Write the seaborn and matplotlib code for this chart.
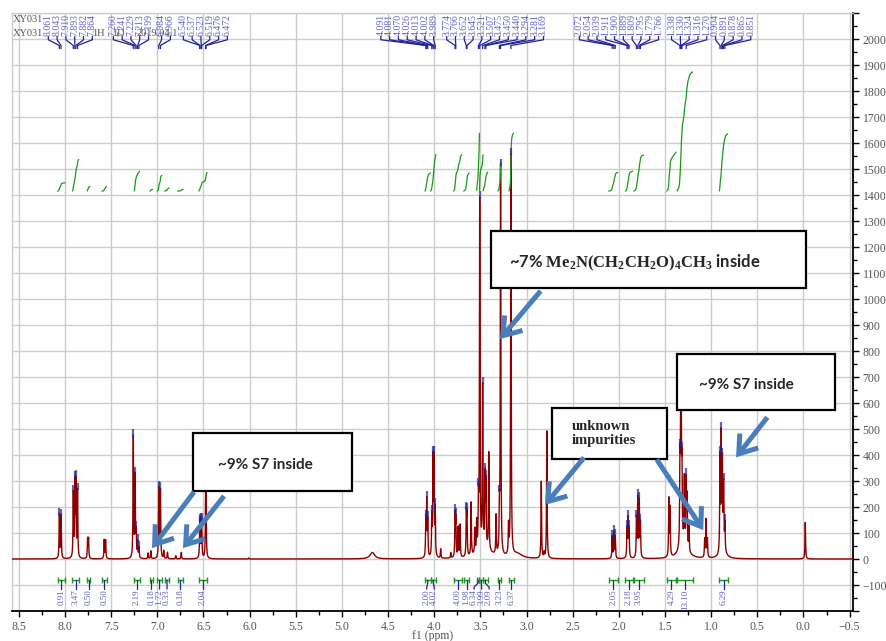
import numpy as np
import matplotlib
matplotlib.use("Agg")
import matplotlib.pyplot as plt
import seaborn as sns
from matplotlib.patches import FancyArrowPatch, Rectangle
from matplotlib.ticker import MultipleLocator, FixedLocator, FuncFormatter

# ---------------- data ----------------
# picked peaks, grouped as printed across the top (ppm text)
shift_groups = [
    ["8.061", "8.043", "7.910", "7.893", "7.882", "7.864"],
    ["7.260", "7.241", "7.229", "7.213", "7.199"],
    ["6.984", "6.966"],
    ["6.540", "6.537", "6.523", "6.519", "6.476", "6.472"],
    ["4.091", "4.081", "4.070", "4.026", "4.013", "4.002", "3.989"],
    ["3.774", "3.766", "3.652", "3.645", "3.521", "3.507", "3.475", "3.450",
     "3.440", "3.294", "3.281", "3.169"],
    ["2.072", "2.054", "2.039", "1.911", "1.900", "1.889", "1.809", "1.795",
     "1.779", "1.766"],
    ["1.338", "1.330", "1.324", "1.316", "1.270", "0.904", "0.891", "0.878",
     "0.865", "0.851"],
]
# intensities of the picked peaks (same order)
shift_heights = [
    [170, 165, 245, 280, 280, 255],
    [465, 310, 90, 60, 40],
    [268, 262],
    [85, 90, 105, 100, 195, 190],
    [140, 210, 135, 150, 365, 360, 175],
    [160, 140, 160, 150, 180, 1350, 620, 265, 240, 150, 1500, 1550],
    [85, 100, 85, 110, 145, 110, 150, 225, 215, 130],
    [300, 445, 410, 270, 250, 360, 430, 320, 235, 100],
]

# other sharp lines (not picked)
extra_ppm = [7.755, 7.745, 7.575, 7.560, 7.100, 7.070, 6.930, 6.890, 6.800,
             6.740, 6.010, 3.930, 3.820, 3.740, 3.720, 3.600, 3.560, 3.540,
             3.409, 3.330, 3.195, 2.840, 2.810, 2.780, 1.458, 1.445, 1.290,
             1.260, 1.240, 1.070, 1.055, 1.040, -0.020]
extra_height = [75, 75, 72, 70, 22, 30, 30, 25, 12,
                25, 4, 35, 20, 115, 125, 205, 95, 115,
                375, 150, 110, 295, 20, 490, 220, 185, 250,
                190, 95, 70, 145, 70, 140]

# broad signals: centre, height, half width (ppm)
broad_ppm = [4.67, 3.45, 3.10, 1.30, 0.87]
broad_height = [25, 35, 18, 55, 35]
broad_hw = [0.03, 0.08, 0.06, 0.05, 0.03]
line_hw = 0.0035

# integral regions (ppm) and normalised values
integral_start = [8.08, 7.92, 7.76, 7.60, 7.25, 7.08, 7.00, 6.92, 6.78, 6.55,
                  4.10, 4.04, 3.79, 3.68, 3.54, 3.51, 3.47, 3.31, 3.19,
                  2.11, 1.93, 1.84, 1.48, 1.37, 0.91]
integral_end = [8.00, 7.85, 7.73, 7.55, 7.19, 7.05, 6.95, 6.87, 6.72, 6.46,
                4.04, 3.98, 3.70, 3.62, 3.51, 3.47, 3.42, 3.28, 3.14,
                2.01, 1.85, 1.73, 1.38, 1.20, 0.82]
integral_value = [0.91, 3.47, 0.50, 0.50, 2.19, 0.18, 1.72, 0.33, 0.18, 2.04,
                  2.00, 4.02, 4.00, 1.98, 6.34, 3.99, 2.09, 3.23, 6.37,
                  2.05, 2.18, 3.95, 4.29, 13.10, 6.29]

x_ticks = [8.5, 8.0, 7.5, 7.0, 6.5, 6.0, 5.5, 5.0, 4.5, 4.0, 3.5, 3.0, 2.5,
           2.0, 1.5, 1.0, 0.5, 0.0, -0.5]
y_ticks = list(range(-100, 2001, 100))

# ---------------- styling ----------------
sns.set_theme(style="white")
plt.rcParams["font.family"] = ["Liberation Serif", "DejaVu Serif"]
plt.rcParams["mathtext.fontset"] = "custom"
plt.rcParams["mathtext.bf"] = "Liberation Serif:bold"
plt.rcParams["mathtext.rm"] = "Liberation Serif"
plt.rcParams["mathtext.it"] = "Liberation Serif:italic"

RED = "#8b0000"
GREEN = "#1a9a1a"
NAVY = "#22229a"
LABEL = "#6060c0"
GREY_TXT = "#555555"
GRID = "#cccccc"
ARROW = "#4a7ebb"

W, H = 887, 641
fig = plt.figure(figsize=(W / 100, H / 100), dpi=100)
ax = fig.add_axes([12 / W, 30 / H, 841 / W, 598 / H])
ax.set_xlim(8.574, -0.537)
ax.set_ylim(-200, 2100)

# ---------------- spectrum ----------------
ppm = np.arange(8.574, -0.537, -0.0004)


def lorentz(x, c, h, w):
    return h * w ** 2 / ((x - c) ** 2 + w ** 2)


pick_ppm = [float(s) for g in shift_groups for s in g]
pick_h = [h for g in shift_heights for h in g]
spec = np.zeros_like(ppm)
for c, h in zip(pick_ppm + extra_ppm, pick_h + extra_height):
    spec += lorentz(ppm, c, h, line_hw)
for c, h, w in zip(broad_ppm, broad_height, broad_hw):
    spec += lorentz(ppm, c, h, w)

sns.lineplot(x=ppm, y=spec, ax=ax, color=RED, lw=1.0, estimator=None,
             sort=False, zorder=3)

# peak-pick markers on top of each picked line
for c in pick_ppm:
    v = spec[np.argmin(np.abs(ppm - c))]
    ax.vlines(c, v - 6, v + 22, color=NAVY, lw=1.6, alpha=0.7, zorder=4)

# integral traces
integ_base, integ_scale = 1415, 35.0
for a, b, val in zip(integral_start, integral_end, integral_value):
    m = (ppm <= a) & (ppm >= b)
    cum = np.cumsum(spec[m])
    cum = cum / cum[-1] * val * integ_scale
    sns.lineplot(x=ppm[m], y=integ_base + cum, ax=ax, color=GREEN, lw=0.9,
                 estimator=None, sort=False, zorder=3)


# ---------------- label layout ----------------
def spread(blocks, step, gap):
    clusters = [[i] for i in range(len(blocks))]

    def geom(cl):
        allp = [p for i in cl for p in blocks[i]]
        width = sum((len(blocks[i]) - 1) * step for i in cl) + (len(cl) - 1) * gap
        return float(np.mean(allp)), width

    merged = True
    while merged:
        merged = False
        for k in range(len(clusters) - 1):
            c1, w1 = geom(clusters[k])
            c2, w2 = geom(clusters[k + 1])
            if (c1 - w1 / 2) - (c2 + w2 / 2) < gap:
                clusters[k] = clusters[k] + clusters.pop(k + 1)
                merged = True
                break
    out = []
    for cl in clusters:
        c, w = geom(cl)
        pos = c + w / 2
        for j, i in enumerate(cl):
            if j > 0:
                pos -= gap
            for n in range(len(blocks[i])):
                if n > 0:
                    pos -= step
                out.append(pos)
    return out


px = 1 / 92.3  # ppm per pixel
label_x = spread([[float(s) for s in g] for g in shift_groups], 8.8 * px, 13 * px)
texts = [s for g in shift_groups for s in g]
for lx, pk, t in zip(label_x, pick_ppm, texts):
    ax.plot([lx, lx, pk, pk], [2010, 1997, 1975, 1963], color=NAVY, lw=0.9,
            zorder=4, clip_on=False)
    ax.text(lx, 2013, t, rotation=90, ha="center", va="bottom", fontsize=7,
            color=LABEL, zorder=4)

# integral brackets and values
centres = [(a + b) / 2 for a, b in zip(integral_start, integral_end)]
int_x = spread([[c] for c in centres], 0, 7.5 * px)
for a, b, c, lx, val in zip(integral_start, integral_end, centres, int_x,
                            integral_value):
    ax.plot([a, b], [-81, -81], color=GREEN, lw=1.0, zorder=4)
    ax.vlines([a, b], -70, -92, color=GREEN, lw=1.0, zorder=4)
    ax.plot([c, c, lx, lx], [-81, -93, -108, -116], color=NAVY, lw=0.9, zorder=4)
    ax.text(lx, -118, f"{val:.2f}", rotation=90, ha="center", va="top",
            fontsize=6.5, color=LABEL, zorder=4)

# ---------------- axes ----------------
ax.xaxis.set_major_locator(FixedLocator(x_ticks))
ax.xaxis.set_minor_locator(MultipleLocator(0.25))
ax.xaxis.set_major_formatter(FuncFormatter(lambda v, _: f"{v:.1f}".replace("-", "\u2212")))
ax.yaxis.tick_right()
ax.yaxis.set_major_locator(FixedLocator(list(range(-200, 2101, 100))))
ax.yaxis.set_minor_locator(MultipleLocator(50))
ax.yaxis.set_major_formatter(FuncFormatter(
    lambda v, _: (f"{int(v)}".replace("-", "\u2212") if int(v) in y_ticks else "")))
ax.tick_params(axis="x", which="major", direction="out", length=4, width=1,
               color="black", labelsize=8.5, labelcolor=GREY_TXT, pad=3,
               bottom=True)
ax.tick_params(axis="x", which="minor", direction="out", length=3, width=1,
               color="black", bottom=True)
ax.tick_params(axis="y", which="major", direction="out", length=4, width=1,
               color="black", labelsize=8.5, labelcolor=GREY_TXT, pad=3,
               right=True, left=False)
ax.tick_params(axis="y", which="minor", direction="out", length=3, width=1,
               color="black", right=True, left=False)
ax.grid(True, which="major", color=GRID, lw=1.0, zorder=0)
ax.set_axisbelow(True)
for side in ("left", "top"):
    ax.spines[side].set_color(GRID)
    ax.spines[side].set_linewidth(1.0)
for side in ("right", "bottom"):
    ax.spines[side].set_color("black")
    ax.spines[side].set_linewidth(1.3)
ax.set_xlabel("f1 (ppm)", fontsize=8.5, color=GREY_TXT, labelpad=-2)
ax.set_ylabel("")

# header
hdr = dict(fontsize=7.5, color=GREY_TXT, va="center", ha="left", zorder=2,
           transform=fig.transFigure)
ax.text(13 / W, 1 - 20 / H, "XY031", **hdr)
ax.text(13 / W, 1 - 33 / H, "XY031", **hdr)
ax.text(92 / W, 1 - 33 / H, "1H", **hdr)
ax.text(112 / W, 1 - 33 / H, "1D", **hdr)
ax.text(137 / W, 1 - 33 / H, "2019.04.1", **hdr)


# ---------------- callouts ----------------
def box(x0, x1, y0, y1):
    ax.add_patch(Rectangle((min(x0, x1), y0), abs(x1 - x0), y1 - y0,
                           facecolor="white", edgecolor="black", lw=1.6,
                           zorder=6))


def arrow(p0, p1):
    ax.add_patch(FancyArrowPatch(p0, p1, arrowstyle="->,head_length=0.4,head_width=0.28",
                                 mutation_scale=30, color=ARROW, lw=3.6,
                                 shrinkA=0, shrinkB=0, zorder=7,
                                 joinstyle="miter", capstyle="butt"))


sans = dict(family=["Lato", "DejaVu Sans"], fontweight="bold")

box(6.613, 4.891, 261.5, 484.6)
ax.text(5.833, 360, "~9% S7 inside", ha="center", va="center", fontsize=11,
        zorder=8, **sans)
arrow((6.602, 258), (7.057, 42))
arrow((6.277, 242), (6.722, 42))

box(3.388, -0.028, 1043.5, 1262.7)
ax.text(3.19, 1140, r"~7% $\mathbf{Me_2N(CH_2CH_2O)_4CH_3}$ inside",
        ha="left", va="center", fontsize=12, zorder=8, **sans)
arrow((2.847, 1031), (3.287, 846))

box(2.724, 1.478, 384.6, 581.9)
ax.text(2.507, 482, "unknown\nimpurities", ha="left", va="center",
        fontsize=10.5, fontweight="bold", linespacing=1.05, zorder=8,
        family=["Liberation Serif"])
arrow((2.377, 390), (2.80, 208))
arrow((1.589, 383), (1.085, 111))

box(1.373, -0.342, 573, 788.5)
ax.text(0.62, 669, "~9% S7 inside", ha="center", va="center", fontsize=11,
        zorder=8, **sans)
arrow((0.391, 545), (0.730, 391))

fig.savefig("out.png", dpi=100)
